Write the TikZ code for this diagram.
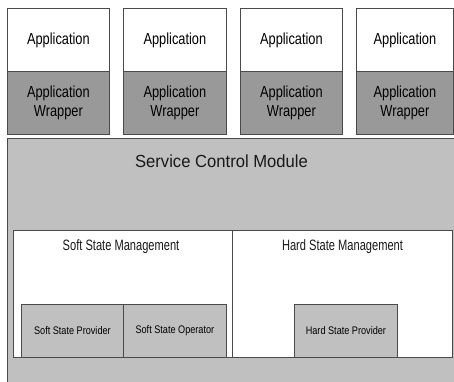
\documentclass[tikz,border=0pt]{standalone}
\usepackage{fontspec}
\setmainfont{Liberation Sans}
% narrowed cuts of the sans face for the different labels
\newfontfamily\appfont[FakeStretch=0.8]{Liberation Sans}
\newfontfamily\titlefont[FakeStretch=0.95]{Liberation Sans}
\newfontfamily\mgmtfont[FakeStretch=0.74]{Liberation Sans}
\newfontfamily\partfont[FakeStretch=0.83]{Liberation Sans}
\definecolor{wrapgray}{HTML}{999999}
\definecolor{modgray}{HTML}{C0C0C0}
\definecolor{edge}{HTML}{4A4A4A}
\begin{document}
\begin{tikzpicture}[x=1pt,y=-1pt,
  frame/.style={draw=edge, line width=0.8pt, rectangle, inner sep=0pt, anchor=north west},
  appbox/.style={frame, fill=white, font=\appfont\fontsize{16}{19.5}\selectfont},
  wrapbox/.style={frame, fill=wrapgray, align=center, font=\appfont\fontsize{16}{19.5}\selectfont},
  modbox/.style={frame, fill=modgray},
  mgmtbox/.style={frame, fill=white},
  partbox/.style={frame, fill=modgray, font=\partfont\fontsize{11}{13}\selectfont},
  label/.style={inner sep=0pt, anchor=base, text=black!90}
]
\useasboundingbox (0,0) rectangle (454,381);
\clip (0,0) rectangle (454,381);

% application stack
\foreach \i/\x/\w in {1/7/102, 2/123/103, 3/240/102, 4/356/97} {
  \node[appbox, minimum width=\w pt, minimum height=63pt] (app\i) at (\x,8) {Application};
  \node[wrapbox, minimum width=\w pt, minimum height=63pt] (wrap\i) at (\x,71) {Application\\Wrapper};
}

% service control module
\node[modbox, minimum width=460pt, minimum height=260pt] (scm) at (7,137.5) {};
\node[label, font=\titlefont\fontsize{17.5}{20}\selectfont] (scmtitle) at (221.5,167.5) {Service Control Module};

% state management areas
\node[mgmtbox, minimum width=219pt, minimum height=127pt] (soft) at (13,230) {};
\node[mgmtbox, minimum width=220pt, minimum height=127pt] (hard) at (232,230) {};
\node[label, font=\mgmtfont\fontsize{15}{17}\selectfont] (softtitle) at (121,250) {Soft State Management};
\node[label, font=\mgmtfont\fontsize{15}{17}\selectfont] (hardtitle) at (342.5,250) {Hard State Management};

% providers and operator
\node[partbox, minimum width=102pt, minimum height=53pt] (ssp) at (21,304) {Soft State Provider};
\node[partbox, minimum width=103pt, minimum height=53pt] (sso) at (123,304) {Soft State Operator};
\node[partbox, minimum width=103pt, minimum height=53pt] (hsp) at (294,304) {Hard State Provider};
\end{tikzpicture}
\end{document}
